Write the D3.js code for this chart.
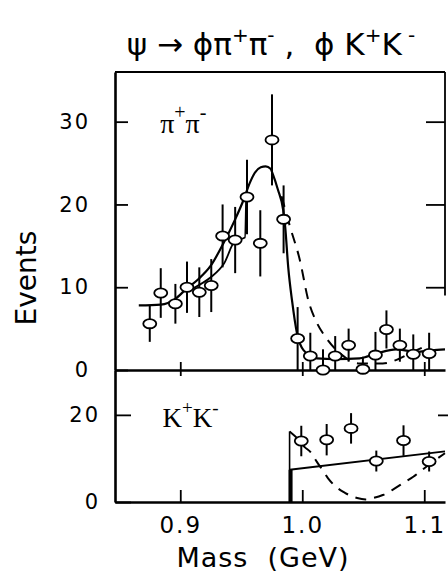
<!DOCTYPE html>
<html>
<head>
<meta charset="utf-8">
<script src="https://cdn.jsdelivr.net/npm/d3@7"></script>
<style>
  body { margin: 0; background: #fff; }
  svg { display: block; }
</style>
</head>
<body>
<div id="chart"></div>
<script>
const width = 448, height = 576;

// pi+ pi- spectrum (upper panel)
const pipiMass   = [0.875, 0.884, 0.896, 0.9055, 0.9156, 0.9254, 0.9347, 0.945, 0.9547, 0.9656, 0.9752, 0.9847,
                    0.9962, 1.0066, 1.017, 1.027, 1.038, 1.0497, 1.06, 1.069, 1.080, 1.091, 1.104];
const pipiEvents = [5.6, 9.3, 8.0, 10.0, 9.4, 10.2, 16.2, 15.7, 20.9, 15.3, 27.8, 18.2,
                    3.8, 1.7, 0.0, 1.7, 3.0, 0.1, 1.8, 4.9, 3.0, 1.9, 2.0];
const pipiErr    = [2.2, 3.0, 2.4, 3.1, 3.0, 3.2, 3.8, 4.0, 4.5, 4.0, 5.5, 4.1,
                    3.8, 2.8, 2.5, 2.4, 2.0, 1.5, 2.8, 2.3, 2.0, 2.4, 2.5];

// solid fit, upper panel
const pipiFitMass   = [0.866, 0.884, 0.896, 0.905, 0.915, 0.925, 0.935, 0.945, 0.952, 0.957, 0.961, 0.966, 0.970,
                       0.974, 0.976, 0.980, 0.9844, 0.986, 0.9885, 0.9916, 0.9957, 1.001, 1.012, 1.028, 1.047,
                       1.061, 1.077, 1.094, 1.106, 1.117];
const pipiFitEvents = [7.8, 7.9, 8.6, 9.8, 11.0, 12.6, 15.2, 18.2, 20.6, 22.6, 23.8, 24.5, 24.6,
                       24.3, 23.6, 21.8, 19.3, 17.3, 12.4, 8.4, 4.4, 2.4, 1.4, 1.3, 1.4,
                       2.0, 2.5, 2.2, 2.4, 2.5];
// second solid curve (lower branch near the rise)
const pipiAltMass   = [0.905, 0.911, 0.925, 0.936, 0.945, 0.953, 0.954];
const pipiAltEvents = [9.4, 9.9, 11.2, 12.9, 15.6, 16.0, 20.8];
// dashed curve, upper panel
const pipiDashMass   = [0.983, 0.990, 0.998, 1.005, 1.012, 1.019, 1.031, 1.047, 1.066, 1.080, 1.088, 1.100];
const pipiDashEvents = [21.0, 17.3, 13.3, 8.4, 5.7, 4.0, 2.0, 0.8, 0.8, 1.4, 2.0, 2.8];

// K+ K- spectrum (lower panel)
const kkMass   = [0.9992, 1.020, 1.040, 1.0607, 1.083, 1.104];
const kkEvents = [14.0, 14.3, 16.9, 9.4, 14.1, 9.3];
const kkErr    = [3.5, 3.6, 3.5, 2.4, 3.5, 2.3];
const kkThreshold = 0.9896, kkThresholdTop = 16.2;
const kkFitMass   = [0.9896, 1.117];
const kkFitEvents = [7.4, 11.6];
const kkDashMass   = [0.9896, 0.996, 1.002, 1.007, 1.012, 1.016, 1.021, 1.028, 1.035, 1.045, 1.052, 1.058,
                      1.066, 1.074, 1.083, 1.091, 1.098, 1.104, 1.117];
const kkDashEvents = [16.2, 14.6, 12.6, 11.4, 9.2, 7.6, 5.5, 3.4, 2.1, 0.9, 0.6, 0.9,
                      1.6, 2.8, 4.4, 5.8, 7.3, 8.6, 11.2];

const xTicks = [0.9, 1.0, 1.1];
const upperTicks = [0, 10, 20, 30];
const lowerTicks = [0, 20];

const svg = d3.select("#chart").append("svg")
    .attr("width", width)
    .attr("height", height);

let x = d3.scaleLinear().domain([0.8465, 1.117]).range([115, 445]);
let yTop = d3.scaleLinear().domain([0, 36]).range([370, 72]);
let yBot = d3.scaleLinear().domain([0, 30.3]).range([502, 370]);

const font = "'DejaVu Sans', sans-serif";

// title
let title = svg.append("text")
    .attr("x", 271)
    .attr("y", 55)
    .attr("text-anchor", "middle")
    .style("font-family", font)
    .style("font-size", "31px")
    .style("white-space", "pre");
title.append("tspan").text("ψ → ϕπ");
title.append("tspan").attr("dy", -13).style("font-size", "20px").text("+");
title.append("tspan").attr("dy", 13).text("π");
title.append("tspan").attr("dy", -13).style("font-size", "20px").text("-");
title.append("tspan").attr("dy", 13).text(" ,  ϕ K");
title.append("tspan").attr("dy", -13).style("font-size", "20px").text("+");
title.append("tspan").attr("dy", 13).text("K");
title.append("tspan").attr("dy", -13).style("font-size", "20px").text(" -");

// frame of the upper panel
svg.append("line")
    .attr("x1", x.range()[0]).attr("x2", x.range()[1])
    .attr("y1", yTop.range()[1]).attr("y2", yTop.range()[1])
    .attr("stroke", "#000").attr("stroke-width", 1.8);
svg.append("line")
    .attr("x1", x.range()[1]).attr("x2", x.range()[1])
    .attr("y1", yTop.range()[1]).attr("y2", yTop(9))
    .attr("stroke", "#000").attr("stroke-width", 1.8);

// left axes
let leftTop = svg.append("g")
    .attr("transform", `translate(${x.range()[0]},0)`)
    .call(d3.axisLeft(yTop).tickValues(upperTicks).tickSizeInner(-13).tickSizeOuter(0).tickPadding(25));
let leftBot = svg.append("g")
    .attr("transform", `translate(${x.range()[0]},0)`)
    .call(d3.axisLeft(yBot).tickValues(lowerTicks).tickSizeInner(-16).tickSizeOuter(0).tickPadding(15));

// right-hand inner ticks
svg.append("g")
    .attr("transform", `translate(${x.range()[1]},0)`)
    .call(d3.axisRight(yTop).tickValues([10, 20, 30]).tickSizeInner(-19).tickSizeOuter(0).tickFormat(""))
    .select(".domain").remove();
svg.append("g")
    .attr("transform", `translate(${x.range()[1] - 7},0)`)
    .call(d3.axisRight(yBot).tickValues([20]).tickSizeInner(10).tickSizeOuter(0).tickFormat(""))
    .select(".domain").remove();

// bottom axes
let midAxis = svg.append("g")
    .attr("transform", `translate(0,${yTop(0)})`)
    .call(d3.axisBottom(x).tickValues(xTicks).tickSizeInner(6).tickSizeOuter(0).tickFormat(""));
midAxis.selectAll(".tick line").attr("y1", -8);
let botAxis = svg.append("g")
    .attr("transform", `translate(0,${yBot(0)})`)
    .call(d3.axisBottom(x).tickValues(xTicks).tickSizeInner(-12).tickSizeOuter(0)
        .tickPadding(15).tickFormat(d3.format(".1f")));

svg.selectAll(".domain").attr("stroke-width", 2.6);
svg.selectAll(".tick line").attr("stroke-width", 1.8);
svg.selectAll(".tick text")
    .style("font-family", font)
    .style("fill", "#000")
    .style("letter-spacing", "2px");
leftTop.selectAll(".tick text").style("font-size", "21px");
leftBot.selectAll(".tick text").style("font-size", "21px");
botAxis.selectAll(".tick text").style("font-size", "23px");

// axis titles
svg.append("text")
    .attr("transform", `translate(36,278) rotate(-90)`)
    .attr("text-anchor", "middle")
    .style("font-family", font)
    .style("font-size", "28px")
    .text("Events");
svg.append("text")
    .attr("x", 263)
    .attr("y", 567)
    .attr("text-anchor", "middle")
    .style("font-family", font)
    .style("font-size", "27px")
    .style("letter-spacing", "1px")
    .style("white-space", "pre")
    .text("Mass  (GeV)");

// panel labels
let lab1 = svg.append("text")
    .attr("x", x(0.8835)).attr("y", yTop(28.6))
    .style("font-family", "'Liberation Serif', serif")
    .style("font-size", "28px");
lab1.append("tspan").text("π");
lab1.append("tspan").attr("dy", -14).style("font-size", "20px").text("+");
lab1.append("tspan").attr("dy", 14).text("π");
lab1.append("tspan").attr("dy", -14).style("font-size", "20px").text("-");

let lab2 = svg.append("text")
    .attr("x", x(0.8855)).attr("y", yBot(17.3))
    .style("font-family", "'Liberation Serif', serif")
    .style("font-size", "27px");
lab2.append("tspan").text("K");
lab2.append("tspan").attr("dy", -13).style("font-size", "19px").text("+");
lab2.append("tspan").attr("dy", 13).text("K");
lab2.append("tspan").attr("dy", -13).style("font-size", "19px").text("-");

// curves
function drawLine(ms, vs, y, dash, w) {
    let pts = ms.map(function(m, i) { return [m, vs[i]]; });
    svg.append("path")
        .datum(pts)
        .attr("d", d3.line().x(function(d) { return x(d[0]); }).y(function(d) { return y(d[1]); }).curve(d3.curveMonotoneX))
        .attr("fill", "none")
        .attr("stroke", "#000")
        .attr("stroke-width", w)
        .attr("stroke-dasharray", dash);
}

drawLine(pipiFitMass, pipiFitEvents, yTop, null, 2.2);
drawLine(pipiAltMass, pipiAltEvents, yTop, null, 1.8);
drawLine(pipiDashMass, pipiDashEvents, yTop, "11,8", 2);

drawLine(kkFitMass, kkFitEvents, yBot, null, 1.8);
drawLine(kkDashMass, kkDashEvents, yBot, "11,8", 2);
// threshold edge
svg.append("line")
    .attr("x1", x(kkThreshold)).attr("x2", x(kkThreshold))
    .attr("y1", yBot(0)).attr("y2", yBot(kkThresholdTop))
    .attr("stroke", "#000").attr("stroke-width", 1.6);
svg.append("line")
    .attr("x1", x(kkThreshold) + 1).attr("x2", x(kkThreshold) + 1)
    .attr("y1", yBot(0)).attr("y2", yBot(kkFitEvents[0]))
    .attr("stroke", "#000").attr("stroke-width", 4);

// data points with error bars
function drawPoints(ms, vs, es, y) {
    let data = ms.map(function(m, i) { return {m: m, v: vs[i], e: es[i]}; });
    let g = svg.append("g");
    g.selectAll("line").data(data).enter()
        .append("line")
        .attr("x1", function(d) { return x(d.m); })
        .attr("x2", function(d) { return x(d.m); })
        .attr("y1", function(d) { return y(Math.max(0, d.v - d.e)); })
        .attr("y2", function(d) { return y(d.v + d.e); })
        .attr("stroke", "#000")
        .attr("stroke-width", 2);
    g.selectAll("ellipse").data(data).enter()
        .append("ellipse")
        .attr("cx", function(d) { return x(d.m); })
        .attr("cy", function(d) { return y(d.v); })
        .attr("rx", 6.5)
        .attr("ry", 4.6)
        .attr("fill", "#fff")
        .attr("stroke", "#000")
        .attr("stroke-width", 1.8);
}

drawPoints(pipiMass, pipiEvents, pipiErr, yTop);
drawPoints(kkMass, kkEvents, kkErr, yBot);
</script>
</body>
</html>
